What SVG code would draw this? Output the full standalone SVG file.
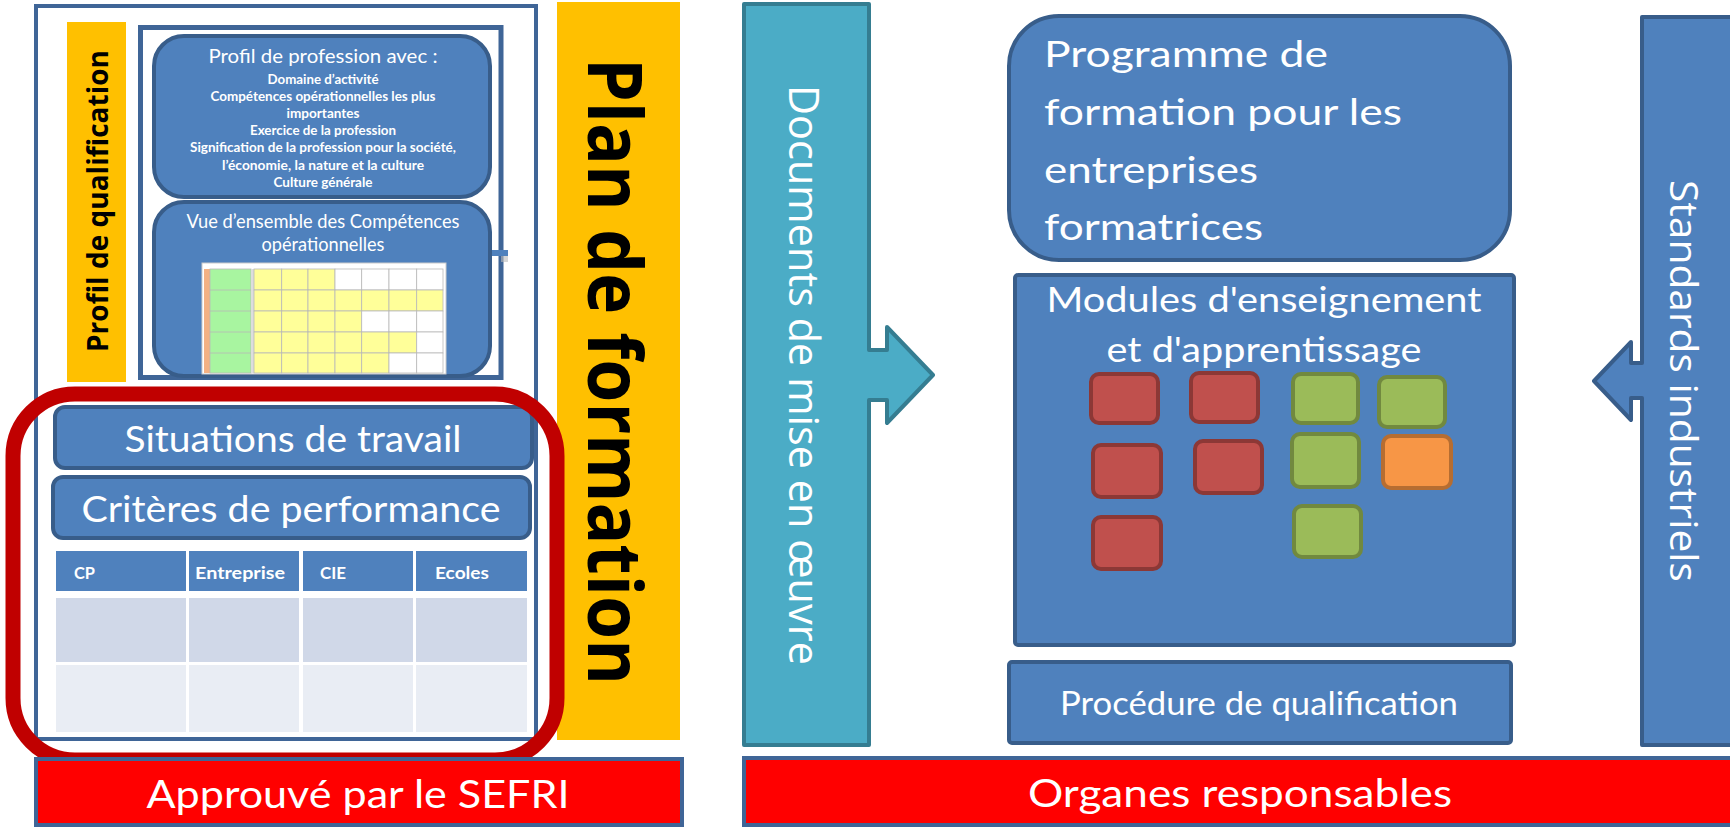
<svg xmlns="http://www.w3.org/2000/svg" width="1730" height="827" viewBox="0 0 1730 827">
<style>
.cal{font-family:Lato,"Liberation Sans",sans-serif;fill:#fff}
.seg{font-family:"Open Sans","DejaVu Sans",sans-serif}
.blue{fill:#4F81BD;stroke:#385D8A;stroke-width:4}
.red{fill:#C0504D;stroke:#8C3836;stroke-width:4}
.grn{fill:#9BBB59;stroke:#71893F;stroke-width:4}
.org{fill:#F79646;stroke:#B66D31;stroke-width:4}
.bar{fill:#FF0000;stroke:#3F6597;stroke-width:4}
.cell{stroke:#B8B8B8;stroke-width:0.8}
.hd{font-family:Lato,"Liberation Sans",sans-serif;font-weight:bold;font-size:17px;fill:#fff}
</style>
<rect width="1730" height="827" fill="#fff"/>

<g id="left-frame">
<rect x="36" y="6" width="500" height="733" fill="#fff" stroke="#3F6597" stroke-width="4"/>
</g>

<g id="profil-qualification">
<rect x="67" y="22" width="59" height="360" fill="#FFC000"/>
<text class="seg" transform="translate(108,201) rotate(-90)" text-anchor="middle" font-size="28" font-weight="bold" fill="#000" textLength="302" lengthAdjust="spacingAndGlyphs">Profil de qualification</text>
</g>

<g id="inner-frame">
<rect x="140.5" y="27.5" width="360.5" height="350" fill="#fff" stroke="#3F6597" stroke-width="5"/>
<rect x="490" y="250" width="18" height="6" fill="#4F81BD"/>
<rect x="501" y="256" width="7" height="6" fill="#bbb" opacity="0.6"/>
</g>

<g id="profil-profession">
<rect x="154" y="36" width="336" height="161" rx="30" class="blue"/>
<text class="cal" text-anchor="middle" font-size="20" x="323" y="63" textLength="229" lengthAdjust="spacingAndGlyphs">Profil de profession avec :</text>
<g class="cal" text-anchor="middle" font-size="13" font-weight="bold">
<text x="323" y="84" textLength="111" lengthAdjust="spacingAndGlyphs">Domaine d’activité</text>
<text x="323" y="101" textLength="225" lengthAdjust="spacingAndGlyphs">Compétences opérationnelles les plus</text>
<text x="323" y="118" textLength="73" lengthAdjust="spacingAndGlyphs">importantes</text>
<text x="323" y="135" textLength="146" lengthAdjust="spacingAndGlyphs">Exercice de la profession</text>
<text x="323" y="152" textLength="266" lengthAdjust="spacingAndGlyphs">Signification de la profession pour la société,</text>
<text x="323" y="170" textLength="202" lengthAdjust="spacingAndGlyphs">l’économie, la nature et la culture</text>
<text x="323" y="187" textLength="99" lengthAdjust="spacingAndGlyphs">Culture générale</text>
</g>
</g>

<g id="vue-ensemble">
<rect x="154" y="202" width="336" height="174" rx="30" class="blue"/>
<text class="cal" text-anchor="middle" font-size="19" x="323" y="228" textLength="273" lengthAdjust="spacingAndGlyphs">Vue d’ensemble des Compétences</text>
<text class="cal" text-anchor="middle" font-size="19" x="323" y="251" textLength="123" lengthAdjust="spacingAndGlyphs">opérationnelles</text>
<g id="matrix">
<rect x="202" y="263" width="244" height="111" fill="#fff" stroke="#ccc" stroke-width="1"/>
<rect x="204" y="269" width="6" height="104" fill="#F4B183"/>
<rect x="210" y="269" width="41" height="104" fill="#A8F5A0" class="cell"/>
<line x1="210" y1="290" x2="251" y2="290" class="cell"/>
<line x1="210" y1="311" x2="251" y2="311" class="cell"/>
<line x1="210" y1="332" x2="251" y2="332" class="cell"/>
<line x1="210" y1="353" x2="251" y2="353" class="cell"/>
<rect x="251" y="269" width="3" height="104" fill="#ddd"/>
<g class="cell" fill="#FFFF99">
<rect x="254" y="269" width="27.7" height="21"/><rect x="281.7" y="269" width="26.3" height="21"/><rect x="308" y="269" width="27" height="21"/>
<rect x="335" y="269" width="26.7" height="21" fill="#fff"/><rect x="361.7" y="269" width="27.3" height="21" fill="#fff"/><rect x="389" y="269" width="27.7" height="21" fill="#fff"/><rect x="416.7" y="269" width="26.3" height="21" fill="#fff"/>
<rect x="254" y="290" width="27.7" height="21"/><rect x="281.7" y="290" width="26.3" height="21"/><rect x="308" y="290" width="27" height="21"/>
<rect x="335" y="290" width="26.7" height="21"/><rect x="361.7" y="290" width="27.3" height="21"/><rect x="389" y="290" width="27.7" height="21"/><rect x="416.7" y="290" width="26.3" height="21"/>
<rect x="254" y="311" width="27.7" height="21"/><rect x="281.7" y="311" width="26.3" height="21"/><rect x="308" y="311" width="27" height="21"/>
<rect x="335" y="311" width="26.7" height="21"/><rect x="361.7" y="311" width="27.3" height="21" fill="#fff"/><rect x="389" y="311" width="27.7" height="21" fill="#fff"/><rect x="416.7" y="311" width="26.3" height="21" fill="#fff"/>
<rect x="254" y="332" width="27.7" height="21"/><rect x="281.7" y="332" width="26.3" height="21"/><rect x="308" y="332" width="27" height="21"/>
<rect x="335" y="332" width="26.7" height="21"/><rect x="361.7" y="332" width="27.3" height="21"/><rect x="389" y="332" width="27.7" height="21"/><rect x="416.7" y="332" width="26.3" height="21" fill="#fff"/>
<rect x="254" y="353" width="27.7" height="20"/><rect x="281.7" y="353" width="26.3" height="20"/><rect x="308" y="353" width="27" height="20"/>
<rect x="335" y="353" width="26.7" height="20"/><rect x="361.7" y="353" width="27.3" height="20"/><rect x="389" y="353" width="27.7" height="20" fill="#fff"/><rect x="416.7" y="353" width="26.3" height="20" fill="#fff"/>
</g>
</g>
</g>

<g id="situations-travail">
<rect x="55" y="407" width="477" height="61" rx="10" class="blue"/>
<text class="cal" text-anchor="middle" font-size="36" x="293" y="452" textLength="337" lengthAdjust="spacingAndGlyphs">Situations de travail</text>
</g>

<g id="criteres-performance">
<rect x="53" y="477" width="477" height="61" rx="10" class="blue"/>
<text class="cal" text-anchor="middle" font-size="36" x="291" y="522" textLength="419" lengthAdjust="spacingAndGlyphs">Critères de performance</text>
</g>

<g id="table-lieux">
<rect x="56" y="551" width="130" height="40" fill="#4F81BD"/>
<rect x="189" y="551" width="110" height="40" fill="#4F81BD"/>
<rect x="303" y="551" width="110" height="40" fill="#4F81BD"/>
<rect x="416" y="551" width="111" height="40" fill="#4F81BD"/>
<rect x="56" y="598" width="130" height="64" fill="#D0D8E8"/>
<rect x="189" y="598" width="110" height="64" fill="#D0D8E8"/>
<rect x="303" y="598" width="110" height="64" fill="#D0D8E8"/>
<rect x="416" y="598" width="111" height="64" fill="#D0D8E8"/>
<rect x="56" y="665" width="130" height="67" fill="#E9EDF4"/>
<rect x="189" y="665" width="110" height="67" fill="#E9EDF4"/>
<rect x="303" y="665" width="110" height="67" fill="#E9EDF4"/>
<rect x="416" y="665" width="111" height="67" fill="#E9EDF4"/>
<text class="hd" x="74" y="579" textLength="21" lengthAdjust="spacingAndGlyphs">CP</text>
<text class="hd" x="195" y="579" textLength="90" lengthAdjust="spacingAndGlyphs">Entreprise</text>
<text class="hd" x="320" y="579" textLength="26" lengthAdjust="spacingAndGlyphs">CIE</text>
<text class="hd" x="435" y="579" textLength="54" lengthAdjust="spacingAndGlyphs">Ecoles</text>
</g>

<g id="plan-formation">
<rect x="557" y="2" width="123" height="738" fill="#FFC000"/>
<text class="seg" transform="translate(588,371.5) rotate(90)" text-anchor="middle" font-size="76" font-weight="bold" fill="#000" textLength="627" lengthAdjust="spacingAndGlyphs">Plan de formation</text>
</g>

<g id="perimetre-rouge">
<rect x="13" y="394" width="544" height="366" rx="62" fill="none" stroke="#C00000" stroke-width="15"/>
</g>

<g id="approuve-sefri">
<rect x="36" y="759" width="646" height="66" class="bar"/>
<text class="cal" text-anchor="middle" font-size="39" x="358" y="808" textLength="423" lengthAdjust="spacingAndGlyphs">Approuvé par le SEFRI</text>
</g>

<g id="documents-mise-en-oeuvre">
<path d="M744,4 H869 V350 H887 V327 L933,375 L887,423 V400 H869 V745 H744 Z" fill="#4BACC6" stroke="#357D91" stroke-width="4" stroke-linejoin="round"/>
<text class="seg" transform="translate(789,375) rotate(90)" text-anchor="middle" font-size="42" fill="#fff" textLength="580" lengthAdjust="spacingAndGlyphs">Documents de mise en œuvre</text>
</g>

<g id="programme-formation">
<rect x="1009" y="16" width="501" height="244" rx="50" class="blue"/>
<g class="cal" font-size="36">
<text x="1044" y="67" textLength="284" lengthAdjust="spacingAndGlyphs">Programme de</text>
<text x="1044" y="125" textLength="358" lengthAdjust="spacingAndGlyphs">formation pour les</text>
<text x="1044" y="183" textLength="214" lengthAdjust="spacingAndGlyphs">entreprises</text>
<text x="1044" y="240" textLength="219" lengthAdjust="spacingAndGlyphs">formatrices</text>
</g>
</g>

<g id="modules">
<rect x="1015" y="275" width="499" height="370" rx="3" class="blue"/>
<text class="cal" text-anchor="middle" font-size="35" x="1264" y="312" textLength="435" lengthAdjust="spacingAndGlyphs">Modules d'enseignement</text>
<text class="cal" text-anchor="middle" font-size="35" x="1264" y="362" textLength="315" lengthAdjust="spacingAndGlyphs">et d'apprentissage</text>
<rect x="1091" y="374" width="67" height="49" rx="8" class="red"/>
<rect x="1191" y="373" width="67" height="49" rx="8" class="red"/>
<rect x="1293" y="374" width="65" height="49" rx="8" class="grn"/>
<rect x="1379" y="377" width="66" height="50" rx="8" class="grn"/>
<rect x="1093" y="445" width="68" height="52" rx="8" class="red"/>
<rect x="1195" y="441" width="67" height="52" rx="8" class="red"/>
<rect x="1292" y="434" width="67" height="53" rx="8" class="grn"/>
<rect x="1383" y="436" width="68" height="52" rx="8" class="org"/>
<rect x="1093" y="517" width="68" height="52" rx="8" class="red"/>
<rect x="1294" y="506" width="67" height="51" rx="8" class="grn"/>
</g>

<g id="procedure-qualification">
<rect x="1009" y="662" width="502" height="81" rx="3" class="blue"/>
<text class="cal" text-anchor="middle" font-size="32" x="1259" y="715" textLength="398" lengthAdjust="spacingAndGlyphs">Procédure de qualification</text>
</g>

<g id="standards-industriels">
<path d="M1740,17 H1642 V363 H1631 V342 L1594,381 L1631,420 V398 H1642 V745 H1740" fill="#4F81BD" stroke="#385D8A" stroke-width="4" stroke-linejoin="round"/>
<text class="seg" transform="translate(1670,381) rotate(90)" text-anchor="middle" font-size="39" fill="#fff" textLength="402" lengthAdjust="spacingAndGlyphs">Standards industriels</text>
</g>

<g id="organes-responsables">
<rect x="744" y="758" width="1000" height="67" class="bar"/>
<text class="cal" font-size="39" x="1028" y="807" textLength="424" lengthAdjust="spacingAndGlyphs">Organes responsables</text>
</g>

<g id="connectors"></g>
</svg>
